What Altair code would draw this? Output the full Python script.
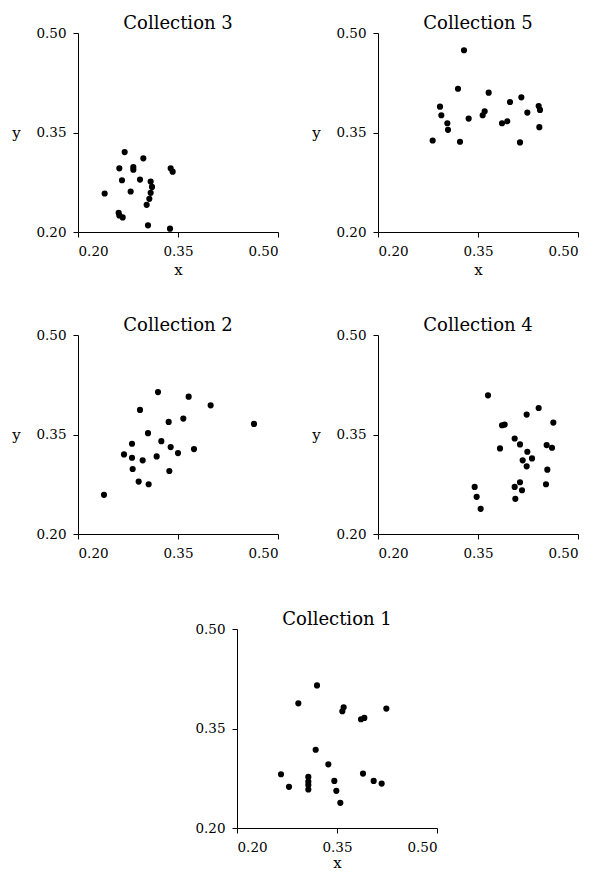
import altair as alt
import pandas as pd

# Collection 3
c3_x = [0.270, 0.298, 0.262, 0.283, 0.283, 0.339, 0.342, 0.266, 0.293, 0.309, 0.311,
        0.240, 0.279, 0.309, 0.307, 0.303, 0.261, 0.262, 0.267, 0.305, 0.338]
c3_y = [0.3205, 0.311, 0.296, 0.298, 0.294, 0.296, 0.291, 0.278, 0.279, 0.276, 0.268,
        0.258, 0.261, 0.259, 0.250, 0.241, 0.229, 0.225, 0.222, 0.210, 0.205]

# Collection 5
c5_x = [0.329, 0.320, 0.366, 0.415, 0.398, 0.441, 0.443, 0.424, 0.293, 0.295, 0.360,
        0.357, 0.336, 0.304, 0.305, 0.386, 0.394, 0.442, 0.282, 0.323, 0.413]
c5_y = [0.474, 0.416, 0.410, 0.403, 0.396, 0.390, 0.384, 0.380, 0.389, 0.376, 0.382,
        0.376, 0.371, 0.364, 0.354, 0.364, 0.367, 0.358, 0.338, 0.336, 0.335]

# Collection 2
c2_x = [0.320, 0.366, 0.399, 0.293, 0.358, 0.336, 0.464, 0.305, 0.281, 0.325, 0.339,
        0.374, 0.269, 0.281, 0.350, 0.318, 0.297, 0.282, 0.337, 0.291, 0.306, 0.239]
c2_y = [0.414, 0.407, 0.394, 0.387, 0.374, 0.369, 0.366, 0.352, 0.336, 0.340, 0.331,
        0.328, 0.320, 0.315, 0.322, 0.317, 0.311, 0.298, 0.295, 0.279, 0.275, 0.259]

# Collection 4
c4_x = [0.365, 0.441, 0.423, 0.463, 0.386, 0.390, 0.405, 0.413, 0.453, 0.461, 0.383,
        0.424, 0.431, 0.417, 0.423, 0.454, 0.345, 0.405, 0.413, 0.416, 0.452, 0.348,
        0.406, 0.354]
c4_y = [0.409, 0.390, 0.380, 0.368, 0.364, 0.365, 0.344, 0.335, 0.334, 0.330, 0.329,
        0.324, 0.314, 0.311, 0.302, 0.297, 0.271, 0.271, 0.278, 0.266, 0.275, 0.256,
        0.253, 0.238]

# Collection 1
c1_x = [0.320, 0.292, 0.360, 0.358, 0.424, 0.386, 0.391, 0.318, 0.337, 0.266, 0.307,
        0.307, 0.307, 0.307, 0.278, 0.346, 0.349, 0.355, 0.389, 0.405, 0.417]
c1_y = [0.415, 0.388, 0.382, 0.376, 0.380, 0.364, 0.366, 0.318, 0.296, 0.281, 0.277,
        0.270, 0.265, 0.258, 0.262, 0.271, 0.256, 0.238, 0.282, 0.271, 0.267]

ticks = [0.20, 0.35, 0.50]
FONT = "'DejaVu Serif', serif"
W, H = 200, 199


def panel(xs, ys, name, show_x, show_y, xty=42):
    df = pd.DataFrame({"x": xs, "y": ys})
    yaxis_kw = dict(values=ticks, format=".2f")
    if show_y:
        yaxis_kw.update(title="y", titleAngle=0, titleX=-62, titleY=H / 2,
                        titleAlign="center", titleBaseline="middle")
    else:
        yaxis_kw.update(title=None)
    return (
        alt.Chart(
            df,
            title=alt.TitleParams(name, frame="group", font=FONT, fontSize=18,
                                  fontWeight="normal", color="black", offset=-7),
        )
        .mark_circle(size=38, color="black", opacity=1)
        .encode(
            x=alt.X("x:Q",
                    scale=alt.Scale(domain=[0.2, 0.5], nice=False, zero=False),
                    axis=alt.Axis(values=ticks, format=".2f", title="x",
                                  titleOpacity=1 if show_x else 0,
                                  titleY=xty, titleBaseline="alphabetic")),
            y=alt.Y("y:Q",
                    scale=alt.Scale(domain=[0.2, 0.5], nice=False, zero=False),
                    axis=alt.Axis(**yaxis_kw)),
        )
        .properties(width=W, height=H)
    )


p3 = panel(c3_x, c3_y, "Collection 3", True, True)
p5 = panel(c5_x, c5_y, "Collection 5", True, True)
p2 = panel(c2_x, c2_y, "Collection 2", False, True)
p4 = panel(c4_x, c4_y, "Collection 4", False, True)
p1 = panel(c1_x, c1_y, "Collection 1", True, False, xty=39)

spacer = (
    alt.Chart(pd.DataFrame({"v": [0]}))
    .mark_point(opacity=0)
    .encode(x=alt.value(0), y=alt.value(0))
    .properties(width=116, height=1)
)

row1 = alt.hconcat(p3, p5, spacing=32)
row2 = alt.hconcat(p2, p4, spacing=32)
row3 = alt.hconcat(spacer, p1, spacing=0)
top = alt.vconcat(row1, row2, spacing=40)
chart = (
    alt.vconcat(top, row3, spacing=32)
    .properties(padding={"left": 11, "top": 15, "right": 2, "bottom": 0})
    .configure_view(stroke=None)
    .configure_axis(
        grid=False,
        domainColor="black",
        domainWidth=1,
        tickColor="black",
        tickSize=5,
        tickWidth=1,
        labelFont=FONT,
        labelFontSize=13.5,
        labelColor="black",
        labelPadding=7,
        titleFont=FONT,
        titleFontSize=15,
        titleFontWeight="normal",
        titleColor="black",
    )
)

chart.save("out.html", embed_options={"renderer": "svg", "actions": False})
